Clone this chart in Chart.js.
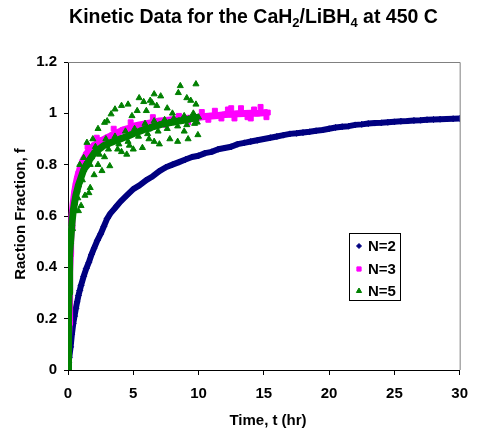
<!DOCTYPE html>
<html>
<head>
<meta charset="utf-8">
<script src="https://cdn.jsdelivr.net/npm/chart.js@4.4.1/dist/chart.umd.min.js"></script>
<style>
    html, body { margin: 0; padding: 0; background: #fff; }
    #chart_kinetic { display: block; }
</style>
</head>
<body>
<canvas id="chart_kinetic" width="478" height="430"></canvas>
<script>
// N=2 run (hours / reaction fraction)
const timeN2 = [0, 0.05, 0.1, 0.2, 0.3, 0.4, 0.5, 0.6, 0.7, 0.8, 0.9, 1.0,
    1.2, 1.4, 1.6, 1.8, 2.0, 2.25, 2.5, 2.75, 3.0, 3.25, 3.5, 3.75, 4.0,
    4.5, 5.0, 5.5, 6.0, 6.5, 7.0, 7.5, 8.0, 8.5, 9.0, 9.5, 10, 10.5, 11, 11.5,
    12, 12.5, 13, 13.5, 14, 14.5, 15, 15.5, 16, 16.5, 17, 17.5, 18, 18.5, 19, 19.5,
    20, 20.5, 21, 21.5, 22, 22.5, 23, 23.5, 24, 24.5, 25, 25.5, 26, 26.5, 27, 27.5,
    28, 28.5, 29, 29.5, 30];
const fracN2 = [0, 0.03, 0.05, 0.09, 0.14, 0.18, 0.21, 0.24, 0.265, 0.29, 0.31, 0.33,
    0.365, 0.395, 0.42, 0.45, 0.475, 0.505, 0.53, 0.56, 0.59, 0.61, 0.625, 0.64, 0.655,
    0.68, 0.705, 0.72, 0.74, 0.755, 0.775, 0.79, 0.8, 0.81, 0.82, 0.83, 0.835, 0.845, 0.85, 0.86,
    0.865, 0.87, 0.88, 0.885, 0.89, 0.895, 0.9, 0.905, 0.91, 0.915, 0.92, 0.922, 0.925, 0.928, 0.932, 0.935,
    0.94, 0.945, 0.948, 0.95, 0.955, 0.957, 0.96, 0.962, 0.963, 0.965, 0.967, 0.969, 0.97, 0.972, 0.973, 0.975,
    0.976, 0.977, 0.978, 0.979, 0.98];

// N=3 run: centre of the band ...
const timeN3 = [0, 0.02, 0.04, 0.06, 0.08, 0.1, 0.12, 0.15, 0.18, 0.2,
    0.25, 0.3, 0.4, 0.5, 0.6, 0.7, 0.8, 0.9, 1.0, 1.1,
    1.2, 1.4, 1.6, 1.8, 2.0, 2.3, 2.6, 3.0, 3.4, 3.8,
    4.2, 4.6, 5.0, 5.5, 6.0, 6.5, 7.0, 7.5, 8.0, 8.5,
    9.0, 9.5, 10, 10.5, 11, 11.5, 12, 12.5, 13, 13.5,
    14, 14.5, 15, 15.3];
const fracN3 = [0, 0.03, 0.08, 0.13, 0.18, 0.23, 0.3, 0.38, 0.45, 0.5,
    0.55, 0.6, 0.65, 0.69, 0.72, 0.745, 0.765, 0.78, 0.795, 0.81,
    0.82, 0.84, 0.855, 0.865, 0.875, 0.885, 0.895, 0.905, 0.915, 0.925,
    0.935, 0.94, 0.95, 0.955, 0.96, 0.965, 0.97, 0.972, 0.975, 0.977,
    0.98, 0.982, 0.985, 0.988, 0.99, 0.992, 0.995, 0.996, 0.998, 0.999,
    1.0, 1.0, 1.002, 1.003];

// ... and the N=3 points that stray from it
const timeN3Scatter = [1.5, 2.2, 3.5, 4.8, 6.5, 7.5, 8.5, 9.2, 10.25, 10.75, 11.25, 11.75,
    12.25, 12.5, 12.75, 13.25, 13.75, 14.0, 14.25, 14.75, 15.2];
const fracN3Scatter = [0.87, 0.905, 0.94, 0.965, 0.985, 0.955, 0.99, 0.965, 1.005, 0.975, 1.01, 0.98,
    1.015, 1.02, 0.98, 1.02, 0.985, 0.98, 1.015, 1.025, 0.985];

// N=5 run: the main band ...
const timeN5 = [0, 0.03, 0.05, 0.08, 0.1, 0.15, 0.2, 0.3, 0.4, 0.5, 0.6, 0.7, 0.8, 0.9, 1.0,
    1.2, 1.4, 1.6, 1.8, 2.0, 2.25, 2.5, 2.75, 3.0, 3.25, 3.5, 3.75, 4.0, 4.25, 4.5, 4.75,
    5.0, 5.25, 5.5, 5.75, 6.0, 6.25, 6.5, 6.75, 7.0, 7.25, 7.5, 7.75, 8.0, 8.25, 8.5, 8.75,
    9.0, 9.25, 9.5, 9.75, 10.0];
const fracN5 = [0, 0.1, 0.2, 0.3, 0.4, 0.45, 0.5, 0.57, 0.62, 0.65, 0.68, 0.7, 0.72, 0.735, 0.75,
    0.78, 0.795, 0.815, 0.83, 0.845, 0.855, 0.865, 0.875, 0.88, 0.885, 0.89, 0.895, 0.9, 0.905, 0.91, 0.915,
    0.92, 0.925, 0.93, 0.935, 0.94, 0.942, 0.948, 0.95, 0.955, 0.958, 0.96, 0.963, 0.965, 0.968, 0.97, 0.972,
    0.975, 0.977, 0.98, 0.982, 0.985];

// ... and the scattered N=5 points around it
const timeN5Scatter = [0.35, 0.55, 0.75, 1.1, 1.3, 1.7, 2.1, 2.4, 2.9, 3.1, 3.6, 3.9, 4.4, 4.6, 5.1, 5.4,
    5.9, 6.1, 6.6, 6.9, 7.4, 7.6, 8.1, 8.4, 8.9, 9.1, 9.6, 9.9,
    1.2, 1.45, 2.3, 2.8, 3.3, 3.6, 4.1, 4.6, 5.3, 5.45, 5.8, 6.0, 6.3, 6.45, 6.6, 6.8,
    7.1, 8.45, 8.6, 9.1, 9.8, 9.8, 0.9, 1.9, 3.0, 4.9, 7.6, 8.0, 9.4,
    0.8, 1.0, 1.3, 1.6, 1.7, 2.0, 2.3, 2.6, 3.2, 3.8, 4.1, 4.5, 5.0, 5.7, 6.2, 7.0,
    7.8, 8.4, 9.2, 9.7, 9.95, 2.8, 4.7, 6.6, 8.9];
const fracN5Scatter = [0.55, 0.62, 0.67, 0.74, 0.8, 0.8, 0.87, 0.84, 0.9, 0.86, 0.91, 0.88, 0.93, 0.89, 0.94, 0.91,
    0.96, 0.92, 0.97, 0.93, 0.975, 0.94, 0.98, 0.95, 0.99, 0.955, 1.0, 0.965,
    0.827, 0.886, 0.94, 0.964, 0.997, 1.016, 1.03, 1.035, 1.01, 1.06, 1.045, 1.01, 1.05, 1.04, 1.075, 1.03,
    1.067, 1.08, 1.107, 1.06, 1.114, 1.035, 0.8, 0.9, 0.97, 0.99, 1.02, 1.0, 1.05,
    0.62, 0.64, 0.68, 0.69, 0.71, 0.76, 0.8, 0.776, 0.795, 0.86, 0.85, 0.84, 0.86, 0.866, 0.9, 0.88,
    0.9, 0.89, 0.9, 0.96, 0.916, 0.83, 0.875, 0.89, 0.93];

const xTicks = [0, 5, 10, 15, 20, 25, 30];
const yTicks = [0, 0.2, 0.4, 0.6, 0.8, 1, 1.2];
const seriesLabels = ['N=2', 'N=3', 'N=5'];

const FONT = '"Liberation Sans", Arial, Helvetica, sans-serif';
const NAVY = '#000080';
const MAGENTA = '#FF00FF';
const GREEN = '#008000';

function toPoints(times, fracs) {
    return times.map((t, i) => ({ x: t, y: fracs[i] }));
}

// Title, axis titles, grey frame and the boxed legend
const textFramePlugin = {
    id: 'textFrame',
    beforeDatasetsDraw(chart) {
        const { ctx, chartArea } = chart;
        ctx.save();
        ctx.strokeStyle = '#808080';
        ctx.lineWidth = 1;
        ctx.beginPath();
        ctx.moveTo(chartArea.left, chartArea.top + 0.5);
        ctx.lineTo(chartArea.right + 0.5, chartArea.top + 0.5);
        ctx.lineTo(chartArea.right + 0.5, chartArea.bottom);
        ctx.stroke();
        ctx.restore();
    },
    afterDraw(chart) {
        const { ctx } = chart;
        ctx.save();
        ctx.fillStyle = '#000';

        // main title with subscripts
        const parts = [
            ['Kinetic Data for the CaH', false], ['2', true], ['/LiBH', false], ['4', true], [' at 450 C', false]
        ];
        const mainFont = 'bold 19.5px ' + FONT;
        const subFont = 'bold 13px ' + FONT;
        let total = 0;
        parts.forEach(p => {
            ctx.font = p[1] ? subFont : mainFont;
            total += ctx.measureText(p[0]).width;
        });
        let x = 253.5 - total / 2;
        ctx.textBaseline = 'alphabetic';
        ctx.textAlign = 'left';
        parts.forEach(p => {
            ctx.font = p[1] ? subFont : mainFont;
            ctx.fillText(p[0], x, p[1] ? 26.5 : 23);
            x += ctx.measureText(p[0]).width;
        });

        // axis titles
        ctx.font = 'bold 15px ' + FONT;
        ctx.textAlign = 'center';
        ctx.fillText('Time, t (hr)', 268, 425);
        ctx.save();
        ctx.translate(24.5, 214);
        ctx.rotate(-Math.PI / 2);
        ctx.fillText('Raction Fraction, f', 0, 0);
        ctx.restore();

        // legend box
        ctx.strokeStyle = '#000';
        ctx.lineWidth = 1;
        ctx.fillStyle = '#fff';
        ctx.fillRect(349.5, 233.5, 51, 67);
        ctx.strokeRect(349.5, 233.5, 51, 67);
        const styles = [
            { color: NAVY, style: 'rectRot', radius: 2.5 },
            { color: MAGENTA, style: 'rect', radius: 3 },
            { color: GREEN, style: 'triangle', radius: 3 }
        ];
        const rows = [246, 269, 291];
        ctx.font = 'bold 15px ' + FONT;
        ctx.textAlign = 'left';
        ctx.textBaseline = 'middle';
        seriesLabels.forEach((label, i) => {
            ctx.fillStyle = styles[i].color;
            ctx.strokeStyle = styles[i].color;
            Chart.helpers.drawPoint(ctx, { pointStyle: styles[i].style, radius: styles[i].radius, rotation: 0, borderWidth: 1 }, 359, rows[i]);
            ctx.fillStyle = '#000';
            ctx.fillText(label, 368, rows[i] + 1);
        });
        ctx.restore();
    }
};

const chartElement = document.getElementById('chart_kinetic');
const ctx = chartElement.getContext('2d');

const tickFont = { family: FONT, size: 15, weight: 'bold' };

new Chart(ctx, {
    type: 'scatter',
    data: {
        datasets: [
            {
                label: seriesLabels[0],
                data: toPoints(timeN2, fracN2),
                pointStyle: 'rectRot',
                pointRadius: 3,
                pointHoverRadius: 3,
                pointBorderWidth: 1,
                backgroundColor: NAVY,
                borderColor: NAVY,
                showLine: true,
                borderWidth: 6,
                borderJoinStyle: 'round',
                order: 6
            },
            {
                label: seriesLabels[1],
                data: toPoints(timeN3, fracN3),
                pointStyle: 'rect',
                pointRadius: 3.5,
                pointHoverRadius: 3.5,
                pointBorderWidth: 1,
                backgroundColor: MAGENTA,
                borderColor: MAGENTA,
                showLine: true,
                borderWidth: 7,
                borderJoinStyle: 'round',
                order: 5
            },
            {
                label: seriesLabels[1],
                data: toPoints(timeN3Scatter, fracN3Scatter),
                pointStyle: 'rect',
                pointRadius: 3.5,
                pointHoverRadius: 3.5,
                backgroundColor: MAGENTA,
                borderColor: MAGENTA,
                borderWidth: 1,
                order: 4
            },
            {
                label: seriesLabels[2],
                data: toPoints(timeN5, fracN5),
                pointStyle: 'triangle',
                pointRadius: 3.5,
                pointHoverRadius: 3.5,
                pointBorderWidth: 1,
                backgroundColor: GREEN,
                borderColor: GREEN,
                showLine: true,
                borderWidth: 7,
                borderJoinStyle: 'round',
                order: 2
            },
            {
                label: seriesLabels[2],
                data: toPoints(timeN5Scatter, fracN5Scatter),
                pointStyle: 'triangle',
                pointRadius: 3.5,
                pointHoverRadius: 3.5,
                backgroundColor: GREEN,
                borderColor: GREEN,
                borderWidth: 1,
                order: 1
            }
        ]
    },
    plugins: [textFramePlugin],
    options: {
        responsive: false,
        animation: false,
        layout: { padding: { top: 62, right: 10, left: 0, bottom: 0 } },
        plugins: {
            legend: { display: false },
            title: { display: false },
            tooltip: { enabled: false }
        },
        scales: {
            x: {
                type: 'linear',
                min: 0,
                max: 30,
                afterFit: scale => { scale.height = 60; },
                afterBuildTicks: scale => { scale.ticks = xTicks.map(v => ({ value: v })); },
                ticks: { color: '#000', font: tickFont, padding: 10, maxRotation: 0, autoSkip: false },
                grid: { drawOnChartArea: false, tickLength: 5, color: '#000' },
                border: { color: '#000', width: 1 }
            },
            y: {
                type: 'linear',
                min: 0,
                max: 1.2,
                afterFit: scale => { scale.width = 68; },
                afterBuildTicks: scale => { scale.ticks = yTicks.map(v => ({ value: v })); },
                ticks: {
                    color: '#000',
                    font: tickFont,
                    padding: 7,
                    autoSkip: false,
                    callback: value => String(value)
                },
                grid: { drawOnChartArea: false, tickLength: 4, color: '#000' },
                border: { color: '#000', width: 1 }
            }
        }
    }
});
</script>
</body>
</html>
